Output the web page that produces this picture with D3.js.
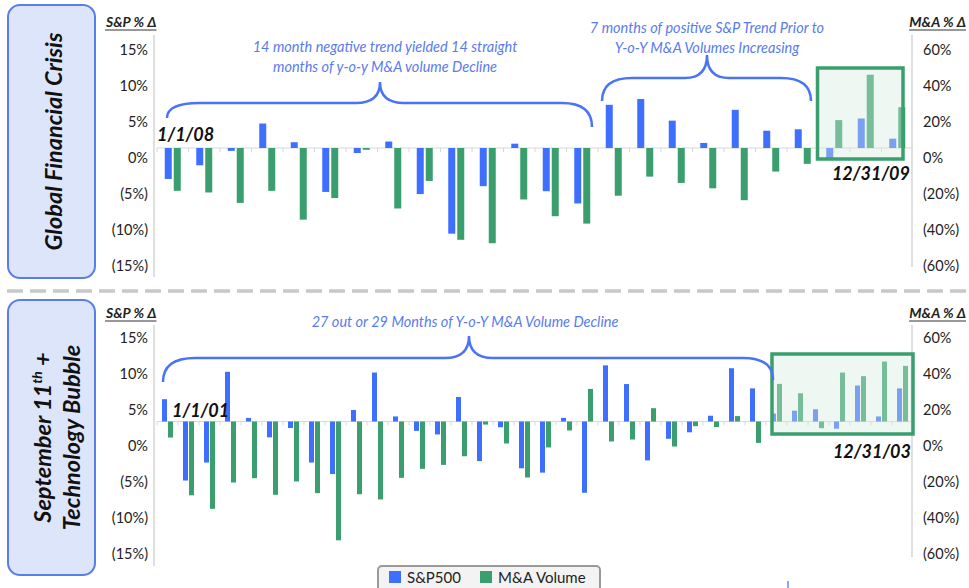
<!DOCTYPE html>
<html>
<head>
<meta charset="utf-8">
<script src="https://cdn.jsdelivr.net/npm/d3@7"></script>
<style>
  body { margin: 0; background: #fff; }
  svg { display: block; font-family: Lato, 'Open Sans', sans-serif; }
</style>
</head>
<body>
<div class="canvas"></div>
<script>
// ---- data ----
const months08 = d3.timeMonths(new Date(2008, 0, 1), new Date(2010, 0, 1)).map(d3.timeFormat('%b %y'));
const sp08 = [-4.3, -2.4, -0.4, 3.4, 0.8, -6.1, -0.7, 0.9, -6.4, -11.9, -5.3, 0.6,
              -6.0, -7.7, 6.0, 6.8, 3.8, 0.7, 5.3, 2.4, 2.6, -1.4, 4.1, 1.3];
const ma08 = [-23.8, -24.7, -30.5, -23.8, -39.8, -27.8, -1.0, -33.6, -18.3, -51, -52.9, -28.6,
              -37.9, -42, -26.5, -15.9, -19.4, -22.4, -29, -13.1, -8.8, 15.5, 40.7, 22.7];

const months01 = d3.timeMonths(new Date(2001, 0, 1), new Date(2004, 0, 1)).map(d3.timeFormat('%b %y'));
const sp01 = [3.1, -8.2, -5.7, 6.9, 0.5, -2.2, -0.9, -5.7, -7.3, 1.6, 6.8, 0.7,
              -1.3, -1.8, 3.4, -5.5, -0.8, -6.5, -7.1, 0.5, -9.9, 7.8, 5.2, -5.4,
              -2.4, -1.5, 0.8, 7.4, 4.6, 1.1, 1.5, 1.7, -1.0, 5.0, 0.7, 4.6];
const ma01 = [-8.9, -41, -48.5, -33.9, -31.5, -40.7, -33.3, -39.8, -66, -40.4, -43.3, -31.3,
              -26.3, -24.1, -19.3, -1.7, -12.2, -31.1, -14.4, -5, 18.1, -11.1, -10, 7.4,
              -13.9, -2.6, -3.1, 3, -11.9, 20.9, 15.7, -3.7, 27.2, 25.2, 33.3, 30.9];

const spTicks = [15, 10, 5, 0, -5, -10, -15];
const maTicks = [60, 40, 20, 0, -20, -40, -60];
const seriesNames = ['S&P500', 'M&A Volume'];

const BLUE = '#3f6fff', GREEN = '#3a9e6e', NOTE = '#5a7bef', BRACE = '#4a74f5';

const width = 969, height = 588;
const svg = d3.select('.canvas').append('svg')
    .attr('width', width)
    .attr('height', height);

const pct = v => v < 0 ? '(' + Math.abs(v) + '%)' : v + '%';

function drawPanel(p) {
    const g = svg.append('g');

    // side label box
    g.append('rect')
        .attr('x', 8).attr('y', p.side.y0)
        .attr('width', 87).attr('height', p.side.y1 - p.side.y0)
        .attr('rx', 12)
        .attr('fill', '#dde5fb')
        .attr('stroke', '#5a7ee8')
        .attr('stroke-width', 2);
    const st = g.append('text')
        .attr('transform', `translate(0,${(p.side.y0 + p.side.y1) / 2}) rotate(-90)`)
        .attr('text-anchor', 'middle')
        .attr('font-size', 23.5)
        .attr('font-weight', 'bold')
        .attr('font-style', 'italic')
        .attr('fill', '#111');
    p.side.lines.forEach((ln, i) => {
        const t = st.append('tspan').attr('x', 0).attr('y', p.side.xs[i]);
        ln.forEach(seg => {
            const s = t.append('tspan').text(seg.t);
            if (seg.sup) s.attr('font-size', 14).attr('dy', -9);
            if (seg.down) s.attr('dy', 9);
        });
    });

    const x0 = d3.scaleBand().domain(p.months).range([157, 913]);
    const bw = x0.bandwidth();
    const grp = p.barW * 2 + p.gap;
    const x1 = d3.scaleBand().domain(seriesNames)
        .range([(bw - grp) / 2, (bw + grp) / 2])
        .paddingInner(p.gap / (p.barW + p.gap));

    const yLab = d3.scaleLinear().domain([-15, 15]).range([p.labBot, p.labTop]);
    const yMaLab = d3.scaleLinear().domain([-60, 60]).range([p.labBot, p.labTop]);
    const shift = p.base - yLab(0);
    const ySp = d3.scaleLinear().domain([-15, 15]).range([p.labBot + shift, p.labTop + shift]);
    const yMa = d3.scaleLinear().domain([-60, 60]).range([p.labBot + shift, p.labTop + shift]);

    // axis lines
    g.append('line').attr('x1', 154).attr('x2', 154).attr('y1', p.axTop).attr('y2', p.axBotL)
        .attr('stroke', '#d4d4d4').attr('stroke-width', 1.5);
    g.append('line').attr('x1', 912).attr('x2', 912).attr('y1', p.axTop).attr('y2', p.axBotR)
        .attr('stroke', '#d4d4d4').attr('stroke-width', 1.5);

    const ax = g.append('g').attr('transform', 'translate(154,0)')
        .call(d3.axisLeft(yLab).tickValues(spTicks).tickFormat(pct).tickSize(0).tickPadding(6));
    const axr = g.append('g').attr('transform', 'translate(912,0)')
        .call(d3.axisRight(yMaLab).tickValues(maTicks).tickFormat(pct).tickSize(0).tickPadding(11));
    [ax, axr].forEach(a => {
        a.select('.domain').remove();
        a.selectAll('text').attr('font-size', 14.5).attr('fill', '#222').attr('font-family', 'Lato, sans-serif');
    });

    // axis titles
    [['S&P % \u0394', 106, 'start'], ['M&A % \u0394', 966, 'end']].forEach(([t, x, a]) => {
        const tt = g.append('text').attr('x', x).attr('y', p.titleY)
            .attr('text-anchor', a)
            .attr('font-size', 14).attr('font-weight', 'bold').attr('font-style', 'italic')
            .attr('fill', '#222').text(t);
        const bb = tt.node().getBBox();
        g.append('line').attr('x1', bb.x).attr('x2', bb.x + bb.width)
            .attr('y1', p.titleY + 3).attr('y2', p.titleY + 3)
            .attr('stroke', '#333').attr('stroke-width', 1);
    });

    // baseline with category ticks
    g.append('line').attr('x1', 157).attr('x2', 913).attr('y1', p.base).attr('y2', p.base)
        .attr('stroke', '#d8d8d8').attr('stroke-width', 1.2);
    g.selectAll('.tk').data(p.months).join('line')
        .attr('x1', d => x0(d)).attr('x2', d => x0(d))
        .attr('y1', p.base).attr('y2', p.base + 4)
        .attr('stroke', '#d8d8d8');

    // bars
    const rows = p.months.map((m, i) => ({ m, sp: p.sp[i], ma: p.ma[i] }));
    const cat = g.selectAll('.cat').data(rows).join('g')
        .attr('transform', d => `translate(${x0(d.m)},0)`);
    cat.append('rect')
        .attr('x', x1('S&P500')).attr('width', x1.bandwidth())
        .attr('y', d => Math.min(ySp(d.sp), ySp(0)))
        .attr('height', d => Math.abs(ySp(d.sp) - ySp(0)))
        .attr('fill', BLUE);
    cat.append('rect')
        .attr('x', x1('M&A Volume')).attr('width', x1.bandwidth())
        .attr('y', d => Math.min(yMa(d.ma), yMa(0)))
        .attr('height', d => Math.abs(yMa(d.ma) - yMa(0)))
        .attr('fill', GREEN);

    // highlight box
    const bx = x0(p.months[p.box.from]) + p.box.dx;
    g.append('rect')
        .attr('x', bx).attr('y', p.box.y0)
        .attr('width', p.box.right - bx).attr('height', p.box.y1 - p.box.y0)
        .attr('fill', '#d4ebdc').attr('fill-opacity', 0.4)
        .attr('stroke', GREEN).attr('stroke-width', 3.5);

    // braces
    p.braces.forEach(b => {
        const path = d3.path();
        path.moveTo(b.x1, b.yl);
        path.quadraticCurveTo(b.x1, b.yTop, b.x1 + b.rl, b.yTop);
        path.lineTo(b.xm - b.rt, b.yTop);
        path.quadraticCurveTo(b.xm, b.yTop, b.xm, b.yTip);
        path.quadraticCurveTo(b.xm, b.yTop, b.xm + b.rt, b.yTop);
        path.lineTo(b.x2 - b.rr, b.yTop);
        path.quadraticCurveTo(b.x2, b.yTop, b.x2, b.yr);
        g.append('path').attr('d', path.toString())
            .attr('fill', 'none').attr('stroke', BRACE).attr('stroke-width', 2.5);
    });

    // notes
    p.notes.forEach(n => {
        g.append('text').attr('x', n.x).attr('y', n.y)
            .attr('text-anchor', 'middle')
            .attr('font-size', 14.5).attr('font-style', 'italic')
            .attr('fill', NOTE).text(n.t);
    });

    // date labels
    p.dates.forEach(d => {
        g.append('text').attr('x', d.x).attr('y', d.y)
            .attr('text-anchor', d.a)
            .attr('font-size', 18).attr('font-weight', 'bold').attr('font-style', 'italic')
            .attr('fill', '#111').text(d.t);
    });
}

drawPanel({
    months: months08, sp: sp08, ma: ma08,
    side: { y0: 5, y1: 278, xs: [62], lines: [[{ t: 'Global Financial Crisis' }]] },
    labTop: 50, labBot: 266, base: 148,
    axTop: 35, axBotL: 277, axBotR: 267, titleY: 27,
    barW: 7, gap: 2,
    box: { from: 21, dx: -1, right: 903, y0: 68, y1: 159 },
    braces: [
        { x1: 167, yl: 118, x2: 592, yr: 127, yTop: 103, xm: 380, yTip: 82, rl: 33, rr: 30, rt: 24 },
        { x1: 602, yl: 101, x2: 811, yr: 101, yTop: 78, xm: 707, yTip: 55, rl: 30, rr: 30, rt: 22 }
    ],
    notes: [
        { x: 385, y: 52, t: '14 month negative trend yielded 14 straight' },
        { x: 385, y: 72, t: 'months of y-o-y M&A volume Decline' },
        { x: 707, y: 33, t: '7 months of positive S&P Trend Prior to' },
        { x: 707, y: 53, t: 'Y-o-Y M&A Volumes Increasing' }
    ],
    dates: [
        { x: 157, y: 141, a: 'start', t: '1/1/08' },
        { x: 910, y: 180, a: 'end', t: '12/31/09' }
    ]
});

drawPanel({
    months: months01, sp: sp01, ma: ma01,
    side: { y0: 300, y1: 575, xs: [51, 80], lines: [
        [{ t: 'September 11' }, { t: 'th', sup: true }, { t: ' +', down: true }],
        [{ t: 'Technology Bubble' }]
    ] },
    labTop: 338, labBot: 554, base: 421.5,
    axTop: 325, axBotL: 566, axBotR: 557, titleY: 318,
    barW: 5, gap: 1,
    box: { from: 29, dx: 6, right: 913, y0: 354, y1: 434 },
    braces: [
        { x1: 163, yl: 382, x2: 773, yr: 380, yTop: 358, xm: 469, yTip: 336, rl: 32, rr: 30, rt: 24 }
    ],
    notes: [
        { x: 465, y: 327, t: '27 out or 29 Months of Y-o-Y M&A Volume Decline' }
    ],
    dates: [
        { x: 172, y: 417, a: 'start', t: '1/1/01' },
        { x: 911, y: 458, a: 'end', t: '12/31/03' }
    ]
});

// dashed separator
svg.append('line').attr('x1', 7).attr('x2', 969).attr('y1', 291).attr('y2', 291)
    .attr('stroke', '#c8c8c8').attr('stroke-width', 3.3).attr('stroke-dasharray', '16 7');

// legend
const lg = svg.append('g').attr('transform', 'translate(378,566)');
lg.append('rect').attr('x', 0).attr('y', 0).attr('width', 222).attr('height', 30).attr('rx', 4)
    .attr('fill', '#f3f3f3').attr('stroke', '#9a9a9a').attr('stroke-width', 2);
const lx = d3.scaleOrdinal().domain(seriesNames).range([11, 102]);
const lc = d3.scaleOrdinal().domain(seriesNames).range([BLUE, GREEN]);
const li = lg.selectAll('.li').data(seriesNames).join('g')
    .attr('transform', d => `translate(${lx(d)},0)`);
li.append('rect').attr('x', 0).attr('y', 5).attr('width', 12).attr('height', 12).attr('fill', d => lc(d));
li.append('text').attr('x', 18).attr('y', 17).attr('font-size', 15).attr('fill', '#222').text(d => d);

// stray tick at the bottom edge
svg.append('line').attr('x1', 788).attr('x2', 788).attr('y1', 581).attr('y2', 588)
    .attr('stroke', BLUE).attr('stroke-width', 1.2);
</script>
</body>
</html>
